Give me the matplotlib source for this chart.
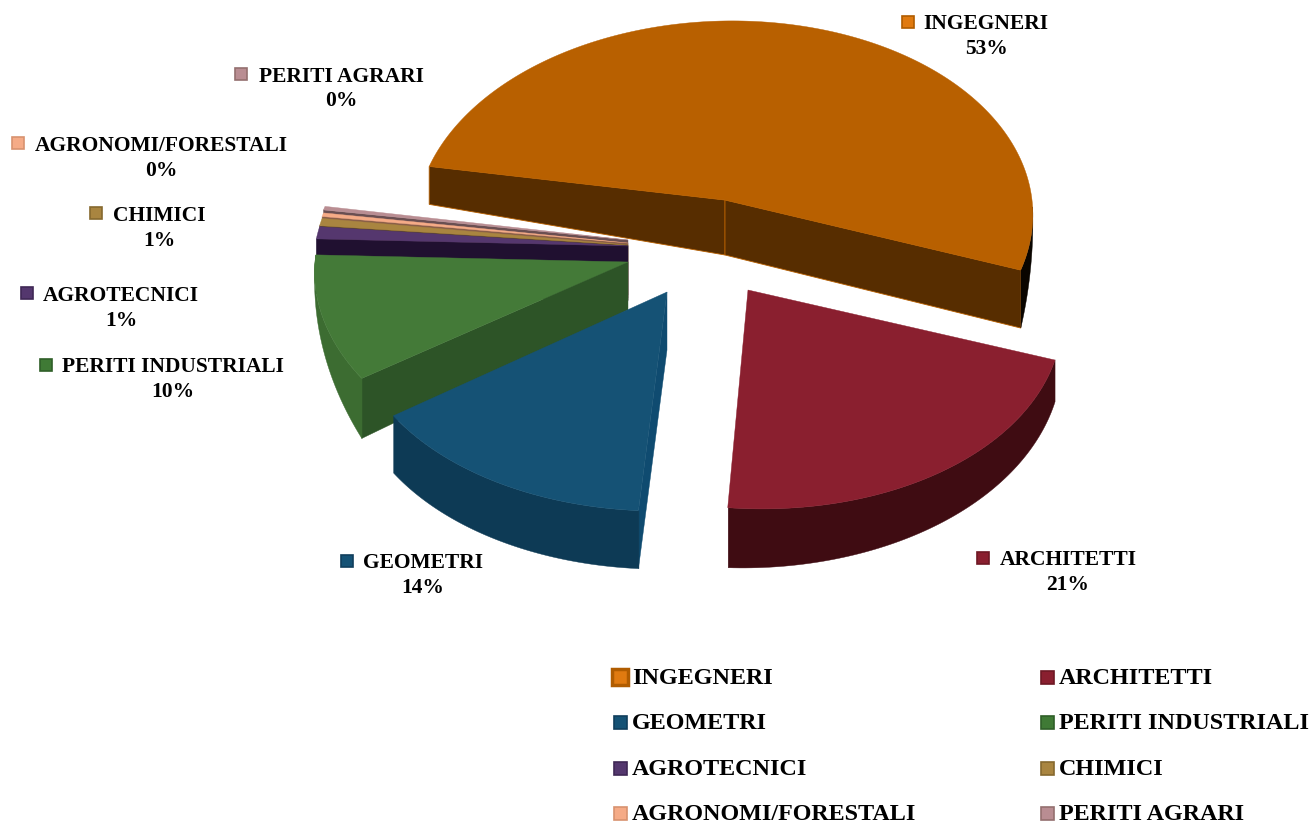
import numpy as np
import matplotlib
matplotlib.use("Agg")
import matplotlib.pyplot as plt
from matplotlib.patches import Polygon, Rectangle

categories = ["INGEGNERI", "ARCHITETTI", "GEOMETRI", "PERITI INDUSTRIALI",
              "AGROTECNICI", "CHIMICI", "AGRONOMI/FORESTALI", "PERITI AGRARI"]
shares = [52.8, 21.0, 14.0, 10.0, 1.0, 0.6, 0.3, 0.3]

# styling and layout (pixel space of the figure)
top_colors = ["#B86000", "#8A1F2F", "#155275", "#447A38", "#55376E", "#A98540", "#F5AB87", "#B98D92"]
face_colors = ["#572D00", "#3F0C12", "#0F4B70", "#2D5427", "#201030", "#5A4620", "#8A5F48", "#6A4F52"]
wall_colors = ["#0A0500", "#3F0C12", "#0D3A55", "#3C6C31", None, None, None, None]
key_inner = ["#E07A10", "#8A1F2F", "#155275", "#3F7A35", "#54376E", "#A98540", "#F5AB87", "#B98D92"]
key_edge = ["#B05C00", "#6E1824", "#103E5C", "#2F5F28", "#3F2855", "#86692F", "#D8926F", "#94706F"]
apex = [(725, 200), (748, 290), (667, 292), (628, 262), (628, 246), (628, 245), (628, 243), (628, 240)]
rx = [307, 311, 315, 313, 313, 313, 313, 313]
skew_x = [8, -12.6, -5.5, -15, 0, 0, 0, 0]
skew_y = [0, 0, -8.4, 0, 0, 0, 0, 0]
face_depth = [(55, 38, 58), None, (58, 58, None), (48, 60, None),
              (55, 55, None), (55, 55, None), (55, 55, None), (55, 55, None)]
walls = [(92, 110, 0, 58), (110, 185.6, 42, 60), (185.6, 236, 58, 57), (236, 272, 60, 0),
         None, None, None, None]
RY, PERSP, START = 197.0, 0.1, 280.0

label_pos = [(986, 24), (1068, 560), (423, 563), (173, 367), (121, 296), (159, 216), (161, 146), (341, 77)]
label_key = [(908, 22), (983, 558), (347, 561), (46, 365), (27, 293), (96, 213), (18, 143), (241, 74)]
legend_x = [(620, 632), (1047, 1059)]
legend_y = [677, 722, 768, 813]

plt.rcParams["font.family"] = ["Liberation Serif", "DejaVu Serif"]
fig = plt.figure(figsize=(13.09, 8.22), dpi=100)
ax = fig.add_axes([0, 0, 1, 1])
ax.set_xlim(0, 1309)
ax.set_ylim(822, 0)
ax.axis("off")


def project(i, t):
    t = np.radians(np.asarray(t, dtype=float))
    u, v = np.sin(t), np.cos(t)
    s = 1 / (1 + PERSP * v)
    return (apex[i][0] + (rx[i] * u + skew_x[i] * v) * s,
            apex[i][1] - RY * v * s + skew_y[i] * u * s)


edges = START + np.concatenate([[0], np.cumsum(shares)]) * 3.6
z = {0: 1, 7: 2, 6: 3, 5: 4, 4: 5, 3: 6, 2: 7, 1: 8}

for i, name in enumerate(categories):
    t0, t1 = edges[i], edges[i + 1]
    zo = z[i]
    ax_, ay_ = apex[i]
    fd = face_depth[i]
    if fd is not None:
        a_d, s_d, e_d = fd
        x, y = project(i, t0)
        edge = top_colors[i] if e_d is not None else face_colors[i]
        lw = 0.6 if e_d is not None else 0.3
        ax.add_patch(Polygon([(ax_, ay_), (x, y), (x, y + s_d), (ax_, ay_ + a_d)],
                             fc=face_colors[i], ec=edge, lw=lw, zorder=zo))
        if e_d is not None:
            x, y = project(i, t1)
            ax.add_patch(Polygon([(ax_, ay_), (x, y), (x, y + e_d), (ax_, ay_ + a_d)],
                                 fc=face_colors[i], ec=edge, lw=lw, zorder=zo))
    if walls[i] is not None:
        ta, tb, da, db = walls[i]
        tt = np.linspace(ta, tb, 80)
        x, y = project(i, tt)
        d = np.linspace(da, db, 80)
        pts = np.r_[np.c_[x, y], np.c_[x, y + d][::-1]]
        ax.add_patch(Polygon(pts, fc=wall_colors[i], ec=wall_colors[i], lw=0.3, zorder=zo))
    tt = np.linspace(t0, t1, 200)
    x, y = project(i, tt)
    pts = np.r_[[(ax_, ay_)], np.c_[x, y]]
    ax.add_patch(Polygon(pts, fc=top_colors[i], ec=top_colors[i], lw=0.3, zorder=zo + 0.5))

# data labels
for i, name in enumerate(categories):
    cx, cy = label_pos[i]
    ax.text(cx, cy, name, ha="center", va="center", fontsize=15.5, fontweight="bold", color="black", zorder=20)
    ax.text(cx, cy + 24.5, f"{round(shares[i])}%", ha="center", va="center", fontsize=15.5,
            fontweight="bold", color="black", zorder=20)
    kx, ky = label_key[i]
    ax.add_patch(Rectangle((kx - 6, ky - 6), 12, 12, fc=key_inner[i], ec=key_edge[i], lw=1.2, zorder=20))

# legend
for i, name in enumerate(categories):
    col, row = i % 2, i // 2
    kx, tx = legend_x[col]
    y = legend_y[row]
    half = 8 if i == 0 else 6.5
    lw = 2.5 if i == 0 else 1.2
    ax.add_patch(Rectangle((kx - half, y - half), 2 * half, 2 * half, fc=key_inner[i], ec=key_edge[i], lw=lw, zorder=20))
    ax.text(tx, y + 1, name, ha="left", va="center", fontsize=17.35, fontweight="bold", color="black", zorder=20)

fig.savefig("out.png", dpi=100)
